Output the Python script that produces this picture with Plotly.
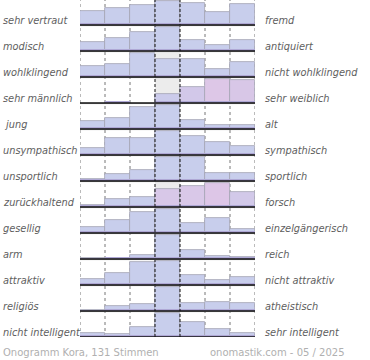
import plotly.graph_objects as go

# ---- data ----
left_labels = ["sehr vertraut", "modisch", "wohlklingend", "sehr männlich", " jung",
               "unsympathisch", "unsportlich", "zurückhaltend", "gesellig", "arm",
               "attraktiv", "religiös", "nicht intelligent"]
right_labels = ["fremd", "antiquiert", "nicht wohlklingend", "sehr weiblich", "alt",
                "sympathisch", "sportlich", "forsch", "einzelgängerisch", "reich",
                "nicht attraktiv", "atheistisch", "sehr intelligent"]
# relative share per scale step (percent of row maximum)
row_values = [
    [57, 71, 83, 100, 90, 54, 86],
    [36, 53, 77, 100, 44, 24, 44],
    [46, 55, 100, 75, 75, 34, 63],
    [0, 5, 0, 36, 65, 100, 92],
    [31, 43, 91, 100, 35, 17, 17],
    [29, 70, 70, 100, 79, 55, 38],
    [9, 30, 44, 100, 96, 34, 34],
    [9, 34, 42, 73, 84, 100, 63],
    [23, 55, 85, 100, 42, 63, 18],
    [4, 5, 18, 100, 38, 14, 9],
    [26, 51, 92, 100, 42, 22, 34],
    [4, 19, 30, 100, 34, 38, 34],
    [16, 12, 42, 100, 63, 33, 18],
]
footer_left = "Onogramm Kora, 131 Stimmen"
footer_right = "onomastik.com - 05 / 2025"

# ---- style ----
BLUE = "#c8ceec"
special_colors = {
    (3, 1): "#d8c4e4", (3, 3): "#cbcbeb", (3, 4): "#d2c8e9", (3, 5): "#ddc7e7", (3, 6): "#d8c7e7",
    (7, 3): "#d8c8e8", (7, 4): "#d9c8e8", (7, 5): "#ddc6e7", (7, 6): "#d2c9e9",
}
ROW_PITCH = 26
ROW_H = 25
BAR_MAX = 24.5
n_rows = len(row_values)
n_cols = 7

fig = go.Figure()

bases = [ROW_PITCH * (n_rows - 1 - r) for r in range(n_rows)]

# grey background of the center column
fig.add_trace(go.Bar(x=[3.5] * n_rows, y=[ROW_H] * n_rows, base=bases, width=1,
                     marker=dict(color="#ececec", line=dict(width=0)),
                     hoverinfo="skip", showlegend=False))

xs, ys, bs, cs, band = [], [], [], [], []
for r, vals in enumerate(row_values):
    for c, v in enumerate(vals):
        if v <= 0:
            continue
        h = v / 100 * BAR_MAX
        xs.append(c + 0.5)
        ys.append(h)
        bs.append(bases[r])
        cs.append(special_colors.get((r, c), BLUE))
        band.append(min(h, 2.5))

fig.add_trace(go.Bar(x=xs, y=ys, base=bs, width=1,
                     marker=dict(color=cs, line=dict(color="#a4a4b4", width=0.8)),
                     showlegend=False))
fig.add_trace(go.Bar(x=xs, y=band, base=bs, width=0.98,
                     marker=dict(color="#afa8d5", line=dict(width=0)),
                     hoverinfo="skip", showlegend=False))

shapes = []
for xb in [0, 1, 2, 5, 6, 7]:
    shapes.append(dict(type="line", xref="x", yref="paper", x0=xb, x1=xb, y0=0, y1=1,
                       line=dict(color="#777", width=1, dash="dot"), layer="below"))
for xb in [3, 4]:
    shapes.append(dict(type="line", xref="x", yref="paper", x0=xb, x1=xb, y0=0, y1=1,
                       line=dict(color="#111", width=1, dash="3px,2px"), layer="above"))
for b in bases:
    shapes.append(dict(type="line", xref="x", yref="y", x0=0, x1=7.03, y0=b - 0.6, y1=b - 0.6,
                       line=dict(color="#aaa", width=1), layer="above"))
    shapes.append(dict(type="line", xref="x", yref="y", x0=0, x1=7.03, y0=b, y1=b,
                       line=dict(color="#111", width=1.3), layer="above"))

lab_font = dict(family="DejaVu Sans", size=9.8, color="#5e5e5e", style="italic")
annotations = []
for r in range(n_rows):
    annotations.append(dict(text=left_labels[r], xref="paper", yref="y", x=0, y=bases[r] + 5,
                            xanchor="left", yanchor="middle", xshift=-79, showarrow=False,
                            font=lab_font))
    annotations.append(dict(text=right_labels[r], xref="paper", yref="y", x=1, y=bases[r] + 5,
                            xanchor="left", yanchor="middle", xshift=8, showarrow=False,
                            font=lab_font))
foot_font = dict(family="DejaVu Sans", size=10, color="#b0b0b0")
annotations.append(dict(text=footer_left, xref="paper", yref="paper", x=0, y=0,
                        xanchor="left", yanchor="middle", xshift=-79, yshift=-15,
                        showarrow=False, font=foot_font))
annotations.append(dict(text=footer_right, xref="paper", yref="paper", x=1, y=0,
                        xanchor="right", yanchor="middle", xshift=92, yshift=-15,
                        showarrow=False, font=foot_font))

fig.update_layout(
    width=370, height=360,
    margin=dict(l=80, r=115, t=0, b=23, pad=0),
    paper_bgcolor="white", plot_bgcolor="white",
    barmode="overlay", bargap=0,
    xaxis=dict(range=[0, 7], visible=False, fixedrange=True),
    yaxis=dict(range=[0, ROW_PITCH * (n_rows - 1) + ROW_H], visible=False, fixedrange=True),
    shapes=shapes, annotations=annotations,
    showlegend=False,
)

fig.write_html("out.html", config={"displayModeBar": False},
               post_script="document.body.style.margin='0';document.body.style.overflow='hidden';")
